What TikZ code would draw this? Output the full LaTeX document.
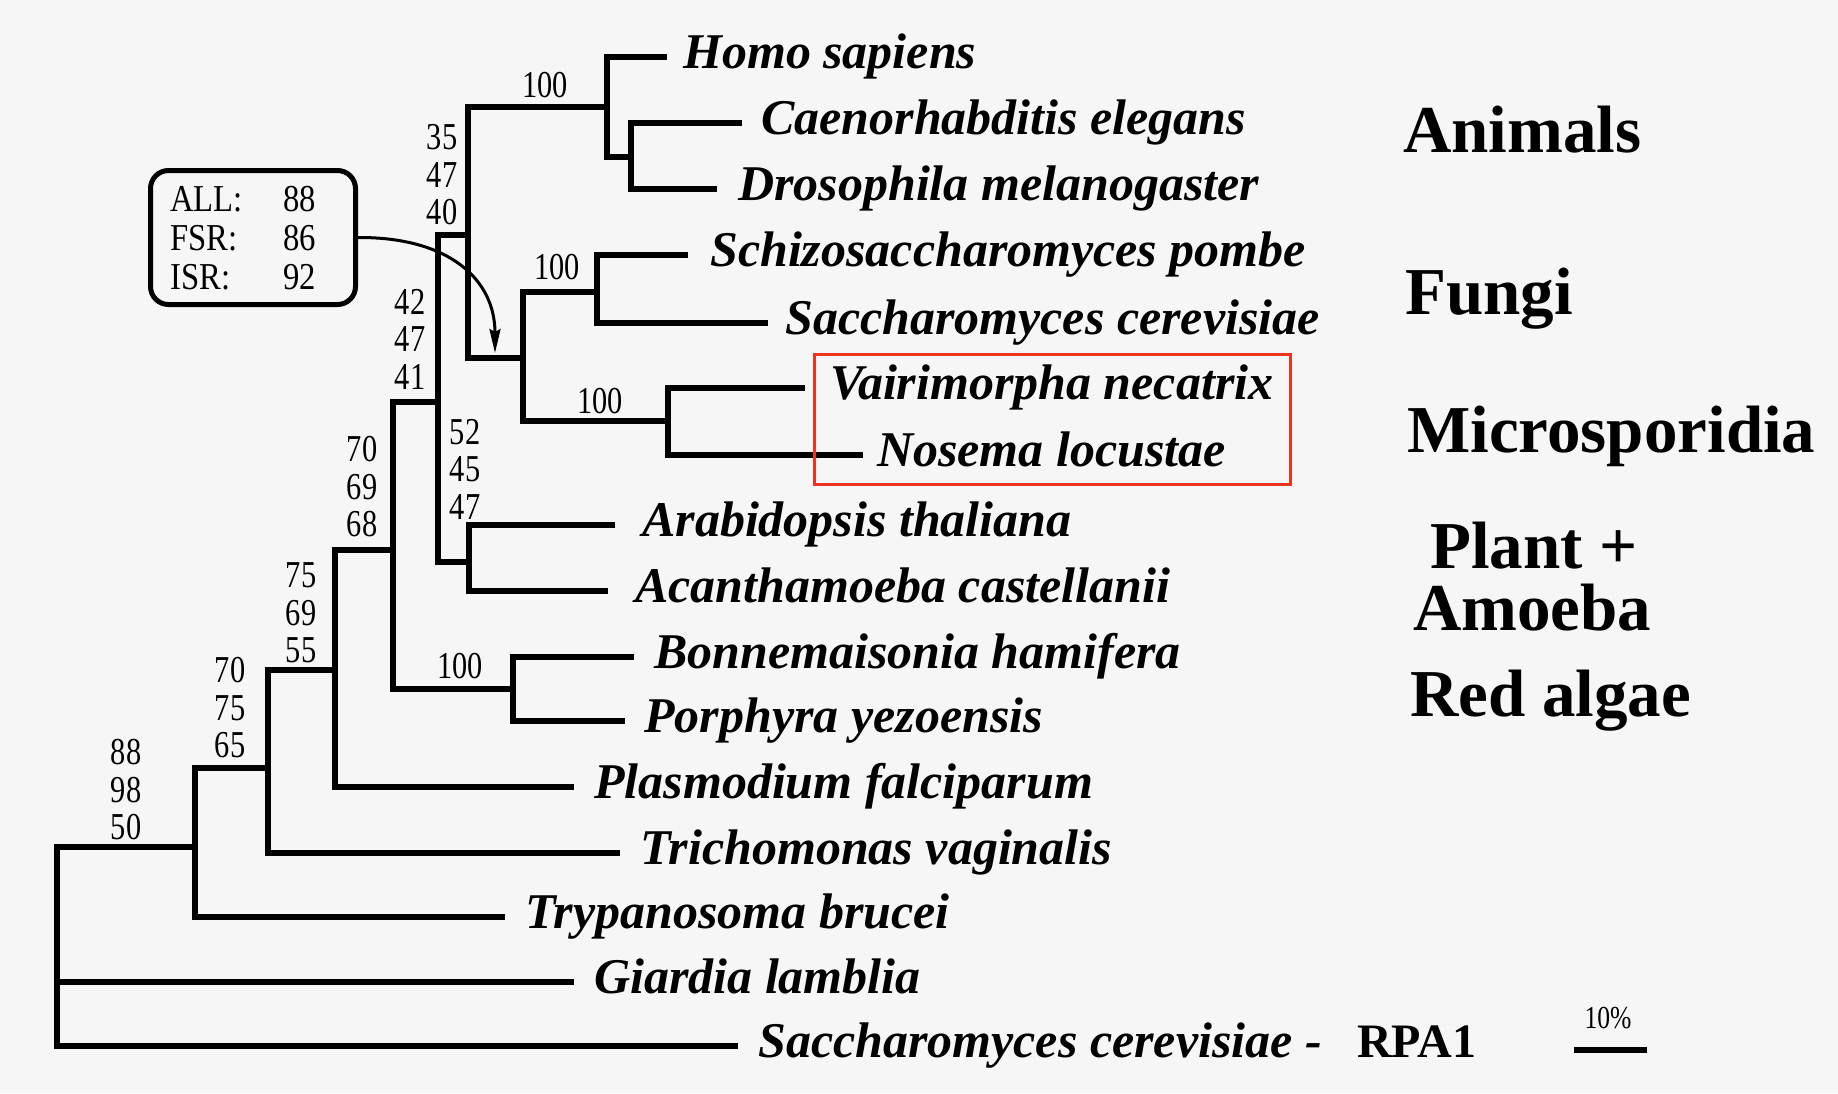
\documentclass[tikz,border=0pt]{standalone}
\usepackage{fontspec}
\setmainfont{Liberation Serif}
\newfontfamily\condserif[FakeStretch=0.8]{Liberation Serif}
\newfontfamily\boxserif[FakeStretch=0.86]{Liberation Serif}
\usetikzlibrary{arrows.meta}
\definecolor{bg}{RGB}{246,246,246}
\definecolor{redframe}{RGB}{238,52,30}
\begin{document}
\begin{tikzpicture}[x=1pt,y=-1pt,
  branch/.style={line width=6pt, line join=miter},
  species/.style={anchor=base west, inner sep=0pt, font=\fontsize{50}{60}\selectfont\bfseries\itshape},
  group/.style={anchor=base west, inner sep=0pt, font=\fontsize{67}{80}\selectfont\bfseries},
  boot/.style={inner sep=0pt, align=center, font=\fontsize{38}{37.5}\selectfont\condserif},
  boxtxt/.style={anchor=base west, inner sep=0pt, font=\fontsize{38}{38}\selectfont\boxserif},
]
\fill[bg] (0,0) rectangle (1838,1093);
\useasboundingbox (0,0) rectangle (1838,1093);

% leaf tips
\coordinate (lHom) at (667,57);
\coordinate (lCel) at (742,123);
\coordinate (lDro) at (717,189);
\coordinate (lSpo) at (688,255);
\coordinate (lSce) at (768,323);
\coordinate (lVai) at (805,388);
\coordinate (lNos) at (863,455);
\coordinate (lAra) at (615,525);
\coordinate (lAca) at (608,591);
\coordinate (lBon) at (634,657);
\coordinate (lPor) at (625,721);
\coordinate (lPla) at (574,787);
\coordinate (lTri) at (620,853);
\coordinate (lTry) at (505,917);
\coordinate (lGia) at (574,982);
\coordinate (lRPA) at (738,1046);

% internal nodes
\coordinate (nCD) at (631,157);
\coordinate (nAn) at (607,107);
\coordinate (nFu) at (597,292);
\coordinate (nMi) at (668,421);
\coordinate (nFM) at (523,358);
\coordinate (nAFM) at (468,235);
\coordinate (nPA) at (469,562);
\coordinate (nX) at (438,402);
\coordinate (nRA) at (513,689);
\coordinate (nY) at (393,550);
\coordinate (nZ) at (335,670);
\coordinate (nW) at (268,768);
\coordinate (nV) at (195,847);
\coordinate (root) at (57,982);

% branches
\draw[branch] (lCel) -| (nCD) |- (lDro);
\draw[branch] (lHom) -| (nAn) |- (nCD);
\draw[branch] (lSpo) -| (nFu) |- (lSce);
\draw[branch] (lVai) -| (nMi) |- (lNos);
\draw[branch] (nFu) -| (nFM) |- (nMi);
\draw[branch] (nAn) -| (nAFM) |- (nFM);
\draw[branch] (lAra) -| (nPA) |- (lAca);
\draw[branch] (nAFM) -| (nX) |- (nPA);
\draw[branch] (lBon) -| (nRA) |- (lPor);
\draw[branch] (nX) -| (nY) |- (nRA);
\draw[branch] (nY) -| (nZ) |- (lPla);
\draw[branch] (nZ) -| (nW) |- (lTri);
\draw[branch] (nW) -| (nV) |- (lTry);
\draw[branch] (nV) -| (root) |- (lRPA);
\draw[branch] (root) -- (lGia);

% species names
\node[species] (tHom) at (683,68) {Homo sapiens};
\node[species] (tCel) at (761,134) {Caenorhabditis elegans};
\node[species] (tDro) at (738,200) {Drosophila melanogaster};
\node[species] (tSpo) at (710,266) {Schizosaccharomyces pombe};
\node[species] (tSce) at (785,334) {Saccharomyces cerevisiae};
\node[species] (tVai) at (830,399) {Vairimorpha necatrix};
\node[species] (tNos) at (877,466) {Nosema locustae};
\node[species] (tAra) at (642,536) {Arabidopsis thaliana};
\node[species] (tAca) at (635,602) {Acanthamoeba castellanii};
\node[species] (tBon) at (654,668) {Bonnemaisonia hamifera};
\node[species] (tPor) at (644,732) {Porphyra yezoensis};
\node[species] (tPla) at (594,798) {Plasmodium falciparum};
\node[species] (tTri) at (640,864) {Trichomonas vaginalis};
\node[species] (tTry) at (525,928) {Trypanosoma brucei};
\node[species] (tGia) at (594,993) {Giardia lamblia};
\node[species] (tRPA) at (758,1057) {Saccharomyces cerevisiae -};
\node[anchor=base west, inner sep=0pt, font=\fontsize{48}{58}\selectfont\bfseries] (tRPA1) at (1357,1057) {RPA1};

% highlight frame
\node[draw=redframe, line width=3pt, minimum width=476pt, minimum height=130pt, inner sep=0pt] (micbox) at (1052.5,419) {};

% support values
\node[boot] (s1) at (545,85) {100};
\node[boot] (s2) at (557,267) {100};
\node[boot] (s3) at (600,401) {100};
\node[boot] (s4) at (460,666) {100};
\node[boot] (b1) at (442,175) {35\\47\\40};
\node[boot] (b2) at (410,339) {42\\47\\41};
\node[boot] (b3) at (465,469) {52\\45\\47};
\node[boot] (b4) at (362,487) {70\\69\\68};
\node[boot] (b5) at (301,613) {75\\69\\55};
\node[boot] (b6) at (230,708) {70\\75\\65};
\node[boot] (b7) at (126,790) {88\\98\\50};

% group labels
\node[group] (gAn) at (1403,152) {Animals};
\node[group] (gFu) at (1405,314) {Fungi};
\node[group] (gMi) at (1407,452) {Microsporidia};
\node[group] (gPl) at (1430,568) {Plant +};
\node[group] (gAm) at (1413,630) {Amoeba};
\node[group] (gRe) at (1410,716) {Red algae};

% support box
\node[draw, line width=5pt, rounded corners=18pt, minimum width=205pt, minimum height=134pt, inner sep=0pt] (bs) at (253,237.5) {};
\node[boxtxt] (kALL) at (170,211) {ALL:};
\node[boxtxt] (kFSR) at (170,250) {FSR:};
\node[boxtxt] (kISR) at (170,289) {ISR:};
\node[boxtxt] (vALL) at (283,211) {88};
\node[boxtxt] (vFSR) at (283,250) {86};
\node[boxtxt] (vISR) at (283,289) {92};
\coordinate (arrTip) at (495,353);
\draw[line width=3pt, -{Stealth[length=24pt,width=11pt,inset=3pt]}] (bs.east) .. controls (450,237) and (495,280) .. (arrTip);

% scale bar
\coordinate (sbL) at (1574,1050);
\coordinate (sbR) at (1647,1050);
\draw[line width=6pt] (sbL) -- (sbR);
\node[anchor=base, inner sep=0pt, font=\fontsize{32}{36}\selectfont\condserif] (sblab) at (1608,1028) {10\%};
\end{tikzpicture}
\end{document}
